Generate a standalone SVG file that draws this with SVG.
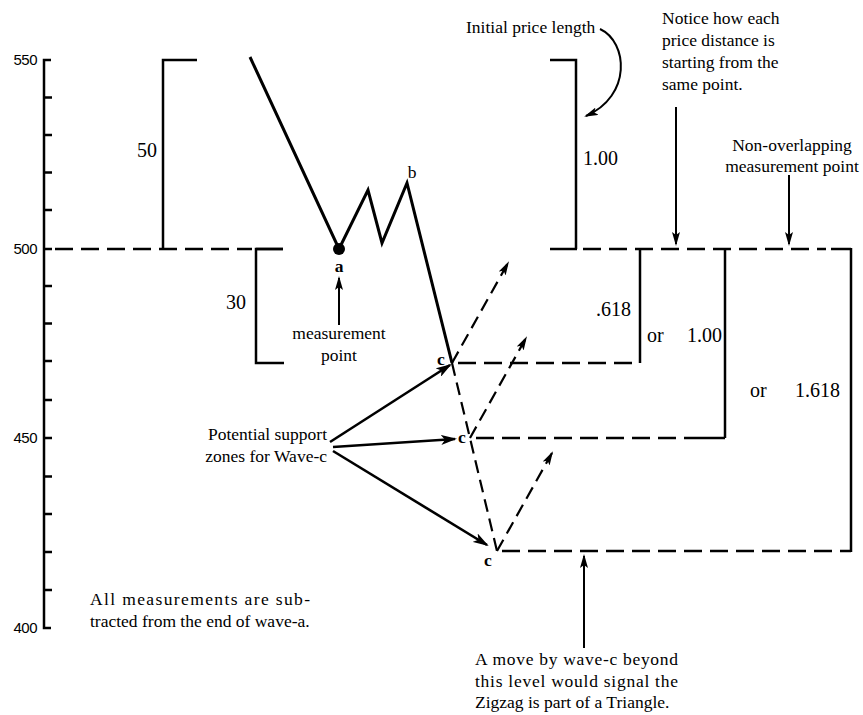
<svg xmlns="http://www.w3.org/2000/svg" width="863" height="715" viewBox="0 0 863 715">
<style>
.ln{fill:none;stroke:#000;stroke-width:2.5;stroke-linecap:butt;stroke-linejoin:miter}
.wv{fill:none;stroke:#000;stroke-width:3;stroke-linejoin:miter}
.ds{fill:none;stroke:#000;stroke-width:2.5;stroke-dasharray:18 8}
.dw{fill:none;stroke:#000;stroke-width:2.2;stroke-dasharray:13 7}
.ar{fill:none;stroke:#000;stroke-width:2;marker-end:url(#ah)}
.ar2{fill:none;stroke:#000;stroke-width:2.6;marker-end:url(#ah2)}
.ard{fill:none;stroke:#000;stroke-width:2.2;stroke-dasharray:13 7;marker-end:url(#ah)}
.t{font-family:"Liberation Serif","Times New Roman",serif;font-size:17.5px;fill:#000}
.n{font-family:"Liberation Serif","Times New Roman",serif;font-size:20px;fill:#000}
.ax{font-family:"Liberation Sans",Arial,sans-serif;font-size:15px;fill:#000;text-anchor:end;letter-spacing:-0.5px}
.tk{stroke:#000;stroke-width:2.5}
</style>
<defs>
<marker id="ah" viewBox="0 0 14 8" markerUnits="userSpaceOnUse" markerWidth="14" markerHeight="8" refX="12" refY="4" orient="auto">
<path d="M0,0 L14,4 L0,8 L3,4 z" fill="#000"/>
</marker>
<marker id="ah2" viewBox="0 0 16 10" markerUnits="userSpaceOnUse" markerWidth="16" markerHeight="10" refX="14" refY="5" orient="auto">
<path d="M0,0 L16,5 L0,10 L4,5 z" fill="#000"/>
</marker>
</defs>
<rect width="863" height="715" fill="#fff"/>

<g id="axis">
<path class="ln" d="M51,60 H44 V628 H51"/>
<path class="tk" d="M44,97.5H52M44,135H52M44,172.5H52M44,210H52M44,249H52M44,286H52M44,323.5H52M44,361H52M44,400H52M44,438H52M44,476.5H52M44,514H52M44,552H52M44,590H52"/>
<text class="ax" x="37" y="65">550</text>
<text class="ax" x="37" y="254">500</text>
<text class="ax" x="37" y="443">450</text>
<text class="ax" x="37" y="633">400</text>
</g>

<g id="levels">
<path class="ds" d="M55,249 H252"/>
<path class="ln" d="M256,249 H283"/>
<path class="ln" d="M550,249 H577"/>
<path class="ds" d="M583,249 H826"/>
<path class="ln" d="M831,249 H851"/>
<path class="ds" d="M458,363 H640"/>
<path class="ds" d="M476,438 H700"/>
<path class="ln" d="M700,438 H725"/>
<path class="ds" d="M502,551 H851"/>
</g>

<g id="bracket-50">
<path class="ln" d="M197,60 H163 V249"/>
<text class="n" x="137" y="157">50</text>
</g>
<g id="bracket-30">
<path class="ln" d="M283,249 H256 V363 H284"/>
<text class="n" x="226" y="309">30</text>
</g>
<g id="bracket-100">
<path class="ln" d="M550,60 H576 V249"/>
<text class="n" x="583" y="165">1.00</text>
</g>
<g id="bracket-618">
<path class="ln" d="M640,249 V363"/>
<text class="n" x="596" y="316">.618</text>
</g>
<g id="bracket-or100">
<path class="ln" d="M725,249 V438"/>
<text class="n" x="647" y="342">or</text>
<text class="n" x="687" y="342">1.00</text>
</g>
<g id="bracket-or1618">
<path class="ln" d="M851,248 V552"/>
<text class="n" x="750" y="397">or</text>
<text class="n" x="795" y="397">1.618</text>
</g>

<g id="wave">
<path class="wv" d="M250,57 L339,249 L368,190 L382,243 L407,183 L452,363"/>
<circle cx="339" cy="249" r="6" fill="#000"/>
<text class="t" x="339" y="272" text-anchor="middle" font-weight="bold" font-size="19">a</text>
<text class="t" x="412" y="178" text-anchor="middle" font-size="19">b</text>
<path class="dw" d="M452,363 L497,551"/>
</g>

<g id="c-points">
<text class="t" x="441" y="365" text-anchor="middle" font-size="19" font-weight="bold">c</text>
<text class="t" x="462" y="443" text-anchor="middle" font-size="19" font-weight="bold">c</text>
<text class="t" x="488" y="566" text-anchor="middle" font-size="19" font-weight="bold">c</text>
</g>

<g id="connectors">
<path class="ard" d="M452,363 L508,263"/>
<path class="ard" d="M470,438 L526,338"/>
<path class="ard" d="M497,551 L552,453"/>
<path class="ar2" d="M330,442 L450,365"/>
<path class="ar2" d="M333,447 L455,439"/>
<path class="ar2" d="M333,451 L487,545"/>
<path class="ar" d="M339,325 L339,278"/>
<path class="ar" d="M676,107 L676,244"/>
<path class="ar" d="M789,175 L789,244"/>
<path class="ar" d="M584,648 L584,556"/>
<path class="ar" d="M600,29 C628,42 632,96 586,116"/>
</g>

<g id="labels">
<text class="t" x="339" y="339" text-anchor="middle">measurement</text>
<text class="t" x="339" y="361" text-anchor="middle">point</text>
<text class="t" x="466" y="33">Initial price length</text>
<text class="t" x="662" y="24">Notice how each</text>
<text class="t" x="662" y="46">price distance is</text>
<text class="t" x="662" y="68">starting from the</text>
<text class="t" x="662" y="90">same point.</text>
<text class="t" x="792" y="151" text-anchor="middle">Non-overlapping</text>
<text class="t" x="792" y="172" text-anchor="middle">measurement point</text>
<text class="t" x="327" y="440" text-anchor="end">Potential support</text>
<text class="t" x="327" y="462" text-anchor="end">zones for Wave-c</text>
<text class="t" x="90" y="605" textLength="220" lengthAdjust="spacing">All measurements are sub-</text>
<text class="t" x="90" y="627">tracted from the end of wave-a.</text>
<text class="t" x="475" y="665" textLength="203" lengthAdjust="spacing">A move by wave-c beyond</text>
<text class="t" x="475" y="687" textLength="203" lengthAdjust="spacing">this level would signal the</text>
<text class="t" x="475" y="708">Zigzag is part of a Triangle.</text>
</g>
</svg>
